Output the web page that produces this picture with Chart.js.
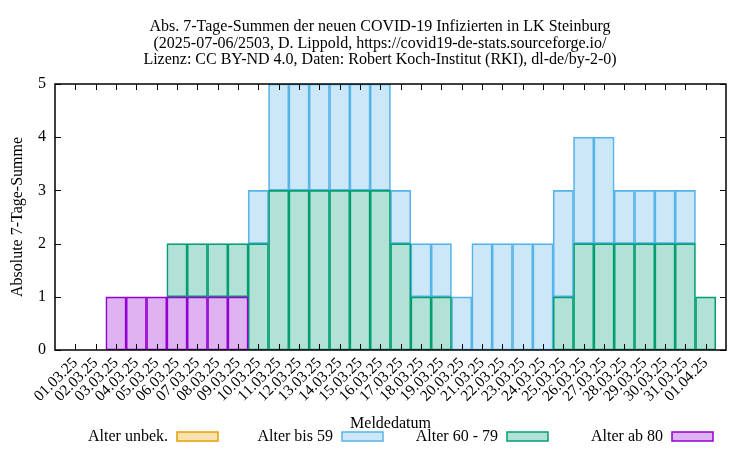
<!DOCTYPE html>
<html><head><meta charset="utf-8">
<script src="https://cdn.jsdelivr.net/npm/chart.js@4.4.1/dist/chart.umd.min.js"></script>
<style>html,body{margin:0;padding:0;background:#fff}</style>
</head><body>
<canvas id="c" width="750" height="450"></canvas>
<script>
const titleLines = [
  'Abs. 7-Tage-Summen der neuen COVID-19 Infizierten in LK Steinburg',
  '(2025-07-06/2503, D. Lippold, https://covid19-de-stats.sourceforge.io/',
  'Lizenz: CC BY-ND 4.0, Daten: Robert Koch-Institut (RKI), dl-de/by-2-0)'
];
const dates = ['01.03.25','02.03.25','03.03.25','04.03.25','05.03.25','06.03.25','07.03.25','08.03.25',
  '09.03.25','10.03.25','11.03.25','12.03.25','13.03.25','14.03.25','15.03.25','16.03.25','17.03.25',
  '18.03.25','19.03.25','20.03.25','21.03.25','22.03.25','23.03.25','24.03.25','25.03.25','26.03.25',
  '27.03.25','28.03.25','29.03.25','30.03.25','31.03.25','01.04.25'];
const alterAb80   = [0,0,1,1,1,1,1,1,1,0,0,0,0,0,0,0,0,0,0,0,0,0,0,0,0,0,0,0,0,0,0,0];
const alter60bis79= [0,0,0,0,0,1,1,1,1,2,3,3,3,3,3,3,2,1,1,0,0,0,0,0,1,2,2,2,2,2,2,1];
const alterBis59  = [0,0,0,0,0,0,0,0,0,1,2,2,2,2,2,2,1,1,1,1,2,2,2,2,2,2,2,1,1,1,1,0];
const alterUnbek  = [0,0,0,0,0,0,0,0,0,0,0,0,0,0,0,0,0,0,0,0,0,0,0,0,0,0,0,0,0,0,0,0];
const yTicks = [0,1,2,3,4,5];
const xTitle = 'Meldedatum';
const yTitle = 'Absolute 7-Tage-Summe';

const FONT = 'Liberation Serif';
const pad = arr => [null, ...arr, null];
const labels = ['', ...dates, ''];

const mk = (label, data, border, fill) => ({
  label, data: pad(data), backgroundColor: fill, borderColor: border,
  borderWidth: 1, borderSkipped: false, categoryPercentage: 1, barPercentage: 1, stack: 's'
});

const decor = {
  id: 'decor',
  afterDraw(chart) {
    const ctx = chart.ctx, a = chart.chartArea;
    const xs = chart.scales.x, ys = chart.scales.y;
    ctx.save();
    ctx.strokeStyle = '#000';
    ctx.lineWidth = 1;
    const tl = 6;
    ctx.beginPath();
    for (let i = 1; i < labels.length - 1; i++) {
      const px = Math.round(xs.getPixelForTick(i)) + 0.5;
      ctx.moveTo(px, a.bottom); ctx.lineTo(px, a.bottom - tl);
      ctx.moveTo(px, a.top); ctx.lineTo(px, a.top + tl);
    }
    ys.ticks.forEach((t, i) => {
      const py = Math.round(ys.getPixelForTick(i)) + 0.5;
      ctx.moveTo(a.left, py); ctx.lineTo(a.left + tl, py);
      ctx.moveTo(a.right, py); ctx.lineTo(a.right - tl, py);
    });
    ctx.stroke();
    ctx.lineWidth = 1.5;
    ctx.strokeRect(a.left, a.top, a.right - a.left, a.bottom - a.top);
    // title
    ctx.fillStyle = '#000';
    ctx.font = '16px "' + FONT + '"';
    ctx.textAlign = 'center';
    ctx.textBaseline = 'middle';
    titleLines.forEach((t, i) => ctx.fillText(t, 380, 27 + i * 16.5));
    // legend (gnuplot style: text then sample box)
    const ds = chart.data.datasets.slice().reverse();
    ds.forEach((d, i) => {
      const bx = 177 + i * 165;
      ctx.textAlign = 'right';
      ctx.fillText(d.label, bx - 9, 437);
      ctx.fillStyle = '#fff';
      ctx.fillRect(bx, 432, 41, 9);
      ctx.fillStyle = d.backgroundColor;
      ctx.fillRect(bx, 432, 41, 9);
      ctx.strokeStyle = d.borderColor;
      ctx.lineWidth = 1.5;
      ctx.strokeRect(bx, 432, 41, 9);
      ctx.fillStyle = '#000';
    });
    ctx.restore();
  }
};

new Chart(document.getElementById('c'), {
  type: 'bar',
  data: {
    labels,
    datasets: [
      mk('Alter ab 80', alterAb80, '#9400d3', 'rgba(148,0,211,0.3)'),
      mk('Alter 60 - 79', alter60bis79, '#009e73', 'rgba(0,158,115,0.3)'),
      mk('Alter bis 59', alterBis59, '#56b4e9', 'rgba(86,180,233,0.3)'),
      mk('Alter unbek.', alterUnbek, '#e69f00', 'rgba(230,159,0,0.3)')
    ]
  },
  options: {
    responsive: false,
    animation: false,
    devicePixelRatio: 1,
    layout: { padding: { left: 0, right: 24, top: 84, bottom: 17 } },
    plugins: { legend: { display: false }, title: { display: false }, tooltip: { enabled: false } },
    scales: {
      x: {
        stacked: true,
        offset: false,
        grid: { display: false, drawTicks: false },
        border: { display: false },
        ticks: { autoSkip: false, maxRotation: 45, minRotation: 45, padding: 4, color: '#000',
                 font: { family: FONT, size: 15.5 } },
        title: { display: true, text: xTitle, color: '#000', padding: { top: 0, bottom: 0 },
                 font: { family: FONT, size: 16 } },
        afterFit(s) { s.height = 83; }
      },
      y: {
        stacked: true,
        min: 0, max: 5,
        afterBuildTicks(s) { s.ticks = yTicks.map(v => ({ value: v })); },
        grid: { display: false, drawTicks: false },
        border: { display: false },
        ticks: { padding: 9, color: '#000', font: { family: FONT, size: 16 } },
        title: { display: true, text: yTitle, color: '#000', padding: { top: 8, bottom: 0 },
                 font: { family: FONT, size: 16 } },
        afterFit(s) { s.width = 55; }
      }
    }
  },
  plugins: [decor]
});
</script>
</body></html>
